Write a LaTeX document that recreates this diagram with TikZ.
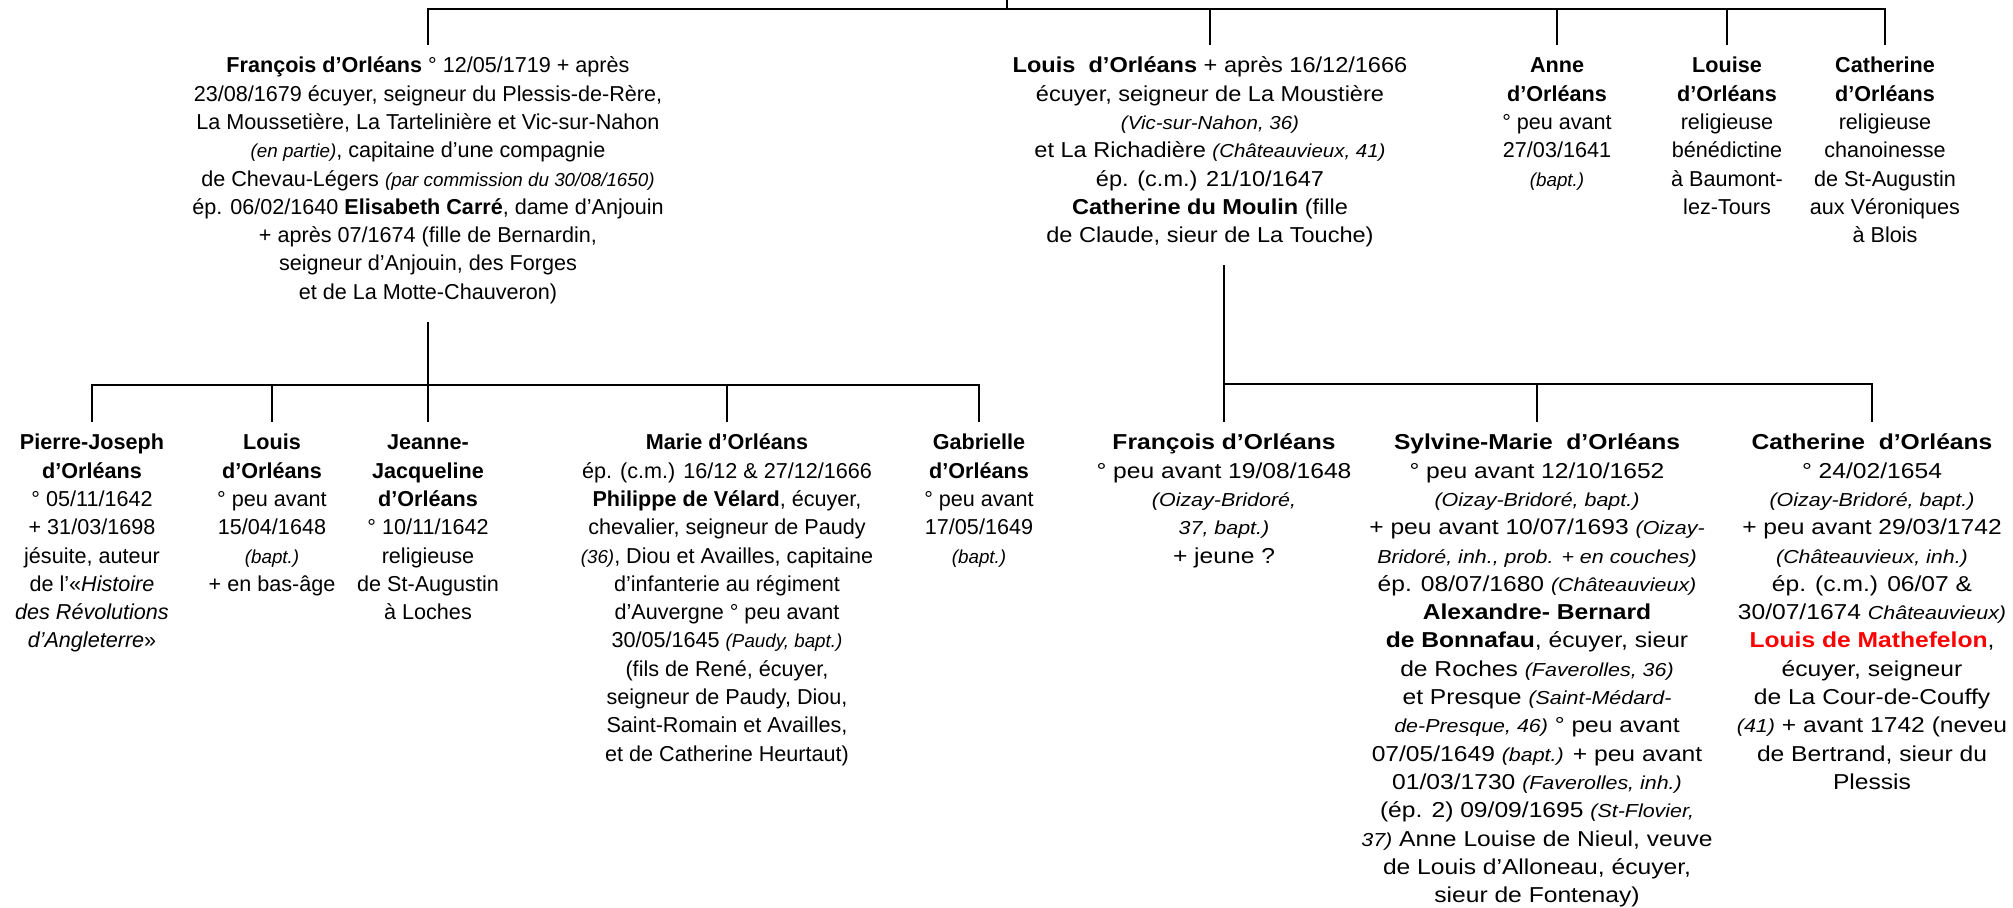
\documentclass[tikz,border=0pt]{standalone}
\usepackage{fontspec}
\setmainfont{Liberation Sans}
\newfontfamily\widefont[FakeStretch=1.14]{Liberation Sans}
\newfontfamily\midfont[FakeStretch=1.09]{Liberation Sans}
\newcommand{\lieu}[1]{{\fontsize{9.4}{14.15}\selectfont\itshape #1}}

\begin{document}
\begin{tikzpicture}[x=0.5pt, y=-0.5pt, line width=1.3pt,
    every node/.style={font=\fontsize{10.8}{14.15}\selectfont, align=center, anchor=north, inner sep=0pt, outer sep=4pt},
    midbox/.style={font=\midfont\fontsize{10.8}{14.15}\selectfont},
    widebox/.style={font=\widefont\fontsize{10.8}{14.15}\selectfont}]
    \useasboundingbox (0,0) rectangle (2013,908);

    % Parents
    \node (fra) at (428,45) {\strut\textbf{François d’Orléans} ° 12/05/1719 + après\\
        23/08/1679 écuyer, seigneur du Plessis-de-Rère,\\
        La Moussetière, La Tartelinière et Vic-sur-Nahon\\
        \lieu{(en partie)}, capitaine d’une compagnie\\
        de Chevau-Légers \lieu{(par commission du 30/08/1650)}\\
        ép. 06/02/1640 \textbf{Elisabeth Carré}, dame d’Anjouin\\
        + après 07/1674 (fille de Bernardin,\\
        seigneur d’Anjouin, des Forges\\
        et de La Motte-Chauveron)};
    \node[midbox] (lou) at (1210,45) {\strut\textbf{Louis\ \ d’Orléans} + après 16/12/1666\\
        écuyer, seigneur de La Moustière\\
        \lieu{(Vic-sur-Nahon, 36)}\\
        et La Richadière \lieu{(Châteauvieux, 41)}\\
        ép. (c.m.) 21/10/1647\\
        \textbf{Catherine du Moulin} (fille\\
        de Claude, sieur de La Touche)};
    \node (anne) at (1557,45) {\strut\textbf{Anne}\\ \textbf{d’Orléans}\\ ° peu avant\\ 27/03/1641\\ \lieu{(bapt.)}};
    \node (louise) at (1727,45) {\strut\textbf{Louise}\\ \textbf{d’Orléans}\\ religieuse\\ bénédictine\\ à Baumont-\\ lez-Tours};
    \node (cath) at (1885,45) {\strut\textbf{Catherine}\\ \textbf{d’Orléans}\\ religieuse\\ chanoinesse\\ de St-Augustin\\ aux Véroniques\\ à Blois};

    % Children of François
    \node (pierre) at (92,422) {\strut\textbf{Pierre-Joseph}\\ \textbf{d’Orléans}\\ ° 05/11/1642\\ + 31/03/1698\\
        jésuite, auteur\\ de l’«\textit{Histoire}\\ \textit{des Révolutions}\\ \textit{d’Angleterre}»};
    \node (louisb) at (272,422) {\strut\textbf{Louis}\\ \textbf{d’Orléans}\\ ° peu avant\\ 15/04/1648\\ \lieu{(bapt.)}\\ + en bas-âge};
    \node (jeanne) at (428,422) {\strut\textbf{Jeanne-}\\ \textbf{Jacqueline}\\ \textbf{d’Orléans}\\ ° 10/11/1642\\
        religieuse\\ de St-Augustin\\ à Loches};
    \node (marie) at (727,422) {\strut\textbf{Marie d’Orléans}\\
        ép. (c.m.) 16/12 \& 27/12/1666\\
        \textbf{Philippe de Vélard}, écuyer,\\
        chevalier, seigneur de Paudy\\
        \lieu{(36)}, Diou et Availles, capitaine\\
        d’infanterie au régiment\\
        d’Auvergne ° peu avant\\
        30/05/1645 \lieu{(Paudy, bapt.)}\\
        (fils de René, écuyer,\\
        seigneur de Paudy, Diou,\\
        Saint-Romain et Availles,\\
        et de Catherine Heurtaut)};
    \node (gab) at (979,422) {\strut\textbf{Gabrielle}\\ \textbf{d’Orléans}\\ ° peu avant\\ 17/05/1649\\ \lieu{(bapt.)}};

    % Children of Louis
    \node[widebox] (franb) at (1224,422) {\strut\textbf{François d’Orléans}\\ ° peu avant 19/08/1648\\
        \lieu{(Oizay-Bridoré,}\\ \lieu{37, bapt.)}\\ + jeune ?};
    \node[widebox] (sylv) at (1537,422) {\strut\textbf{Sylvine-Marie\ \ d’Orléans}\\
        ° peu avant 12/10/1652\\
        \lieu{(Oizay-Bridoré, bapt.)}\\
        + peu avant 10/07/1693 \lieu{(Oizay-}\\
        \lieu{Bridoré, inh., prob. + en couches)}\\
        ép. 08/07/1680 \lieu{(Châteauvieux)}\\
        \textbf{Alexandre- Bernard}\\
        \textbf{de Bonnafau}, écuyer, sieur\\
        de Roches \lieu{(Faverolles, 36)}\\
        et Presque \lieu{(Saint-Médard-}\\
        \lieu{de-Presque, 46)} ° peu avant\\
        07/05/1649 \lieu{(bapt.)} + peu avant\\
        01/03/1730 \lieu{(Faverolles, inh.)}\\
        (ép. 2) 09/09/1695 \lieu{(St-Flovier,}\\
        \lieu{37)} Anne Louise de Nieul, veuve\\
        de Louis d’Alloneau, écuyer,\\
        sieur de Fontenay)};
    \node[widebox] (catb) at (1872,422) {\strut\textbf{Catherine\ \ d’Orléans}\\
        ° 24/02/1654\\
        \lieu{(Oizay-Bridoré, bapt.)}\\
        + peu avant 29/03/1742\\
        \lieu{(Châteauvieux, inh.)}\\
        ép. (c.m.) 06/07 \&\\
        30/07/1674 \lieu{Châteauvieux)}\\
        \textcolor{red}{\textbf{Louis de Mathefelon}},\\
        écuyer, seigneur\\
        de La Cour-de-Couffy\\
        \lieu{(41)} + avant 1742 (neveu\\
        de Bertrand, sieur du\\
        Plessis};

    % Top bar
    \coordinate (root) at (1007,0);
    \coordinate (bar1) at (1007,9);
    \draw (root) -- (bar1);
    \draw (fra.north) -- (fra.north |- bar1) -- (cath.north |- bar1) -- (cath.north);
    \foreach \n in {lou,anne,louise}
        \draw (\n.north |- bar1) -- (\n.north);

    % Left branch
    \coordinate (bar2) at (428,385);
    \draw ([yshift=-5pt]fra.south) -- (jeanne.north);
    \draw (pierre.north) -- (pierre.north |- bar2) -- (gab.north |- bar2) -- (gab.north);
    \foreach \n in {louisb,marie}
        \draw (\n.north |- bar2) -- (\n.north);

    % Right branch
    \coordinate (bar3) at (1224,384);
    \draw ([yshift=-5pt]lou.south -| franb.north) -- (franb.north);
    \draw (franb.north |- bar3) -- (catb.north |- bar3) -- (catb.north);
    \draw (sylv.north |- bar3) -- (sylv.north);
\end{tikzpicture}
\end{document}
